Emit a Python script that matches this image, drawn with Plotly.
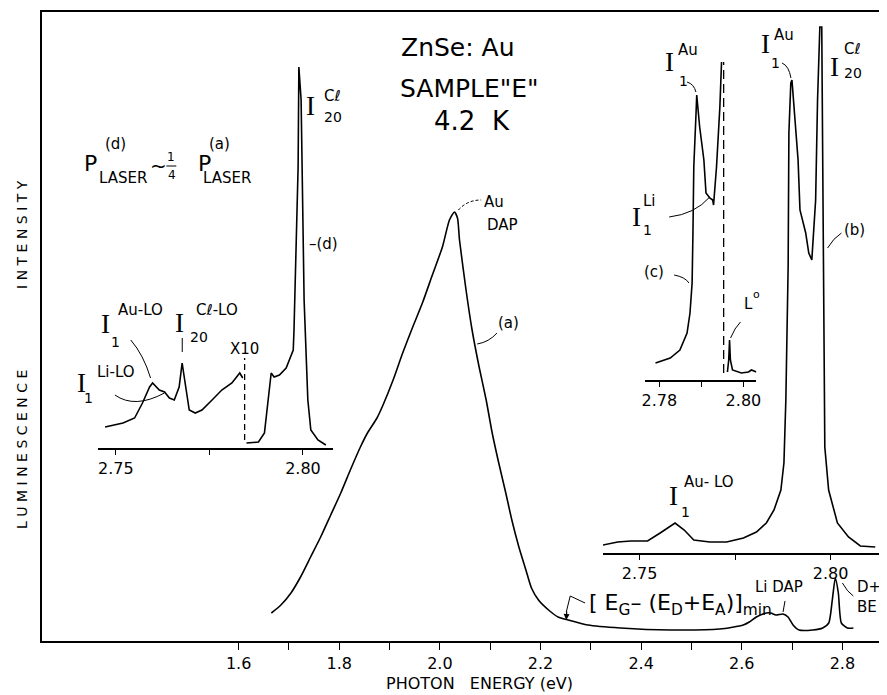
import plotly.graph_objects as go

# the page body has an 8 px margin, so the figure is drawn 8 px in from the window corner
OFF = 8
W, H = 887 - OFF, 695 - OFF
SANS = "DejaVu Sans"
SERIF = "Liberation Serif"

# ---------------- data ----------------
# main spectrum (a): photon energy (eV) vs luminescence intensity (arb. units)
energy_a = [1.665, 1.684, 1.704, 1.723, 1.743, 1.763, 1.783, 1.803, 1.822, 1.842,
            1.856, 1.875, 1.887, 1.907, 1.926, 1.946, 1.966, 1.985, 2.005, 2.019,
            2.029, 2.035, 2.039, 2.052, 2.064, 2.078, 2.092, 2.104, 2.117, 2.131,
            2.143, 2.157, 2.171, 2.182, 2.196, 2.216, 2.235, 2.255, 2.294, 2.359,
            2.458, 2.556, 2.603, 2.615, 2.629, 2.649, 2.658, 2.668, 2.682, 2.692,
            2.702, 2.714, 2.741, 2.761, 2.773, 2.780, 2.786, 2.792, 2.798, 2.810,
            2.822]
intensity_a = [28, 36, 48, 64, 84, 104, 126, 148, 171, 194,
               208, 223, 236, 261, 288, 314, 339, 366, 394, 421,
               429, 423, 401, 351, 311, 274, 241, 208, 178, 148,
               121, 94, 71, 53, 41, 31, 24, 21, 16, 13,
               11, 12, 16, 19, 24, 28, 28, 26, 27, 24,
               16, 11, 11, 13, 18, 41, 63, 48, 18, 13,
               13]

# inset (d): low-energy part (x10) and exciton part
energy_d1 = [2.7471, 2.7519, 2.7550, 2.7571, 2.7590, 2.7598, 2.7616, 2.7630, 2.7643,
             2.7656, 2.7669, 2.7677, 2.7685, 2.7696, 2.7712, 2.7730, 2.7757, 2.7783,
             2.7810, 2.7831, 2.7839]
intensity_d1 = [21, 25, 30, 45, 61, 65, 58, 56, 50,
                48, 61, 85, 65, 38, 35, 38, 48, 58,
                65, 75, 70]
energy_d2 = [2.7849, 2.7881, 2.7897, 2.7907, 2.7915, 2.7923, 2.7937, 2.7955, 2.7963,
             2.7974, 2.7976, 2.7981, 2.7987, 2.7989, 2.7995, 2.8003, 2.8013, 2.8021,
             2.8040, 2.8061]
intensity_d2 = [5, 6, 15, 48, 75, 71, 73, 80, 88,
                98, 118, 181, 281, 381, 348, 148, 48, 18,
                8, 3]
break_d_energy = 2.7844
break_d_span = [8, 90]

# inset (c)
energy_c1 = [2.7791, 2.7826, 2.7849, 2.7866, 2.7873, 2.7878, 2.7880, 2.7882, 2.7887,
             2.7889, 2.7896, 2.7906, 2.7911, 2.7920, 2.7927, 2.7929, 2.7936, 2.7944,
             2.7948]
intensity_c1 = [17, 22, 30, 47, 67, 97, 147, 213, 263,
                285, 253, 220, 187, 182, 180, 175, 213, 273,
                318]
energy_c2 = [2.7962, 2.7965, 2.7967, 2.7969, 2.7974, 2.7995, 2.8012, 2.8019, 2.8031]
intensity_c2 = [8, 20, 40, 20, 10, 7, 8, 10, 8]
break_c_energy = 2.7953
break_c_span = [7, 318]

# inset (b)
energy_b = [2.7404, 2.7443, 2.7477, 2.7521, 2.7554, 2.7593, 2.7617, 2.7642, 2.7684,
            2.7728, 2.7772, 2.7806, 2.7832, 2.7852, 2.7870, 2.7878, 2.7883, 2.7889,
            2.7891, 2.7896, 2.7899, 2.7904, 2.7915, 2.7920, 2.7935, 2.7943, 2.7951,
            2.7961, 2.7966, 2.7972, 2.7977, 2.7979, 2.7982, 2.7983, 2.7985, 2.7995,
            2.8018, 2.8047, 2.8078, 2.8117]
intensity_b = [8, 11, 12, 12, 20, 30, 23, 13, 11,
               11, 15, 21, 30, 43, 63, 90, 153, 286,
               420, 470, 473, 446, 393, 343, 320, 300, 293,
               353, 453, 526, 526, 420, 286, 173, 106, 63,
               30, 16, 7, 6]

# tick labels
main_tick_vals = [1.6, 1.7, 1.8, 1.9, 2.0, 2.1, 2.2, 2.3, 2.4, 2.5, 2.6, 2.7, 2.8]
main_tick_text = ["1.6", "", "1.8", "", "2.0", "", "2.2", "", "2.4", "", "2.6", "", "2.8"]
d_tick_vals = [2.75, 2.775, 2.80]
d_tick_text = ["2.75", "", "2.80"]
c_tick_vals = [2.78, 2.79, 2.80]
c_tick_text = ["2.78", "", "2.80"]
b_tick_vals = [2.75, 2.775, 2.80]
b_tick_text = ["2.75", "", "2.80"]

# ---------------- helpers (window pixel -> paper) ----------------
def X(px):
    return (px - OFF) / W

def Y(py):
    return 1 - (py - OFF) / H

LINE = dict(color="black", width=1.6)

fig = go.Figure()
fig.add_trace(go.Scatter(x=energy_a, y=intensity_a, mode="lines",
                         line=dict(color="black", width=1.6, shape="spline", smoothing=0.6),
                         xaxis="x", yaxis="y"))
for ex, iy in [(energy_d1, intensity_d1), (energy_d2, intensity_d2)]:
    fig.add_trace(go.Scatter(x=ex, y=iy, mode="lines", line=LINE, xaxis="x2", yaxis="y2"))
fig.add_trace(go.Scatter(x=[break_d_energy, break_d_energy], y=break_d_span, mode="lines",
                         line=dict(color="black", width=1.3, dash="6px,4px"), xaxis="x2", yaxis="y2"))
for ex, iy in [(energy_c1, intensity_c1), (energy_c2, intensity_c2)]:
    fig.add_trace(go.Scatter(x=ex, y=iy, mode="lines", line=LINE, xaxis="x3", yaxis="y3"))
fig.add_trace(go.Scatter(x=[break_c_energy, break_c_energy], y=break_c_span, mode="lines",
                         line=dict(color="black", width=1.3, dash="9px,5px"), xaxis="x3", yaxis="y3"))
fig.add_trace(go.Scatter(x=energy_b, y=intensity_b, mode="lines", line=LINE, xaxis="x4", yaxis="y4"))

tickfont = dict(family=SANS, size=16, color="black")

def inset_x(domain, rng, vals, text, anchor):
    return dict(domain=domain, range=rng, anchor=anchor, tickvals=vals, ticktext=text,
                ticks="outside", ticklen=5, tickwidth=1.3, tickcolor="black",
                showline=True, linecolor="black", linewidth=1.5, showgrid=False,
                zeroline=False, tickfont=tickfont)

def inset_y(domain, rng, anchor):
    return dict(domain=domain, range=rng, anchor=anchor, visible=False, showgrid=False, zeroline=False)

fig.update_layout(
    width=W, height=H,
    margin=dict(l=0, r=0, t=0, b=0),
    paper_bgcolor="white", plot_bgcolor="rgba(0,0,0,0)",
    showlegend=False,
    xaxis=dict(domain=[X(38), 1.0], range=[1.2085, 2.8788], anchor="y",
               tickvals=main_tick_vals, ticktext=main_tick_text,
               ticks="outside", ticklen=7, tickwidth=1.4, tickcolor="black",
               showline=True, mirror=True, linecolor="black", linewidth=1.6,
               showgrid=False, zeroline=False, tickfont=tickfont),
    yaxis=dict(domain=[Y(641), Y(12)], range=[0, 629], anchor="x",
               showline=True, linecolor="black", linewidth=1.6, ticks="",
               showticklabels=False, showgrid=False, zeroline=False),
    xaxis2=inset_x([X(95), X(332)], [2.74524, 2.80794], d_tick_vals, d_tick_text, "y2"),
    yaxis2=inset_y([Y(448), Y(40)], [0, 408], "x2"),
    xaxis3=inset_x([X(648), X(760)], [2.77671, 2.80306], c_tick_vals, c_tick_text, "y3"),
    yaxis3=inset_y([Y(380), Y(40)], [0, 340], "x3"),
    xaxis4=inset_x([X(605), 1.0], [2.74041, 2.81347], b_tick_vals, b_tick_text, "y4"),
    yaxis4=inset_y([Y(553), Y(12)], [0, 541], "x4"),
)

ann = []

def txt(s, x, y, size=15, family=SANS, xanchor="center", angle=0):
    ann.append(dict(text=s, x=X(x), y=Y(y), xref="paper", yref="paper", showarrow=False,
                    font=dict(family=family, size=size, color="black"),
                    xanchor=xanchor, yanchor="middle", textangle=angle))

def ilabel(ix, iy, sup, sx, sy, sub, bx, by):
    txt("I", ix, iy, 27, SERIF)
    txt(sup, sx, sy, 15)
    txt(sub, bx, by, 14)

# titles
txt("ZnSe: Au", 459, 47, 25)
txt('SAMPLE"E"', 470, 89, 25)
txt("4.2  K", 473, 121, 26)
txt("L U M I N E S C E N C E", 18, 449, 14, angle=-90)
txt("I N T E N S I T Y", 18, 234, 14, angle=-90)
txt("PHOTON   ENERGY (eV)", 480, 683, 16)

# main curve labels
txt("Au", 495, 202, 15)
txt("DAP", 504, 225, 15)
txt("(a)", 510, 323, 15)
txt("–(d)", 306, 244, 15, xanchor="left")

# inset (d) labels
ilabel(310, 106, "Cℓ", 332, 96, "20", 332, 117)
txt("P", 87, 163, 22)
txt("(d)", 113, 144, 15)
txt("LASER", 120, 178, 15)
txt("~", 156, 166, 20)
txt("1", 169, 157, 12)
txt("4", 170, 175, 12)
txt("P", 202, 163, 22)
txt("(a)", 218, 144, 15)
txt("LASER", 225, 178, 15)
ilabel(102, 324, "Au-LO", 138, 310, "1", 113, 342)
ilabel(177, 323, "Cℓ-LO", 215, 310, "20", 197, 337)
ilabel(78, 383, "Li-LO", 113, 372, "1", 85, 398)
txt("X10", 243, 349, 15)

# inset (c) labels
ilabel(672, 62, "Au", 691, 50, "1", 686, 81)
ilabel(639, 217, "Li", 652, 201, "1", 650, 230)
txt("(c)", 657, 272, 15)
txt("L", 752, 304, 15)
txt("o", 760, 294, 11)

# inset (b) labels
ilabel(769, 44, "Au", 788, 35, "1", 779, 63)
ilabel(839, 67, "Cℓ", 857, 49, "20", 858, 73)
txt("(b)", 859, 230, 15)
ilabel(676, 496, "Au- LO", 712, 482, "1", 688, 512)

# bottom-right labels
txt("Li DAP", 783, 587, 15)
txt("D+A", 860, 587, 15, xanchor="left")
txt("BE", 860, 607, 15, xanchor="left")
txt("[ E<sub>G</sub>– (E<sub>D</sub>+E<sub>A</sub>)]<sub>min</sub>", 589, 604, 22, xanchor="left")

# arrow head for [Eg-(Ed+Ea)]min
ann.append(dict(x=X(568), y=Y(620), xref="paper", yref="paper", text="", showarrow=True,
                ax=0.5, ay=-10, arrowhead=2, arrowsize=1, arrowwidth=1.2, arrowcolor="black"))

fig.update_layout(annotations=ann)

# leader lines
def path(d):
    return dict(type="path", xref="paper", yref="paper", path=d,
                line=dict(color="black", width=1))

def quad(p0, c, p1):
    return f"M{X(p0[0])},{Y(p0[1])} Q{X(c[0])},{Y(c[1])} {X(p1[0])},{Y(p1[1])}"

def seg(*pts):
    s = f"M{X(pts[0][0])},{Y(pts[0][1])}"
    for p in pts[1:]:
        s += f" L{X(p[0])},{Y(p[1])}"
    return s

shapes = [
    path(quad((478, 344), (490, 342), (498, 333))),
    path(seg((180, 338), (180, 352))),
    path(quad((128, 340), (141, 355), (148, 378))),
    path(quad((112, 395), (132, 409), (162, 393))),
    path(quad((690, 82), (697, 84), (699, 92))),
    path(quad((786, 63), (793, 66), (795, 78))),
    path(quad((672, 217), (698, 214), (713, 197))),
    path(quad((677, 275), (688, 277), (692, 283))),
    path(quad((846, 233), (838, 238), (832, 248))),
    path(quad((744, 322), (738, 328), (734, 338))),
    path(seg((789, 601), (787, 612))),
    path(quad((847, 583), (852, 592), (858, 596))),
    path(seg((587, 603), (572, 596), (568, 612))),
    path(seg((164, 166), (174, 166))),
]
dap = path(quad((459, 210), (468, 200), (482, 200)))
dap["line"]["dash"] = "3px,2px"
shapes.append(dap)
fig.update_layout(shapes=shapes)

fig.write_html("out.html")
